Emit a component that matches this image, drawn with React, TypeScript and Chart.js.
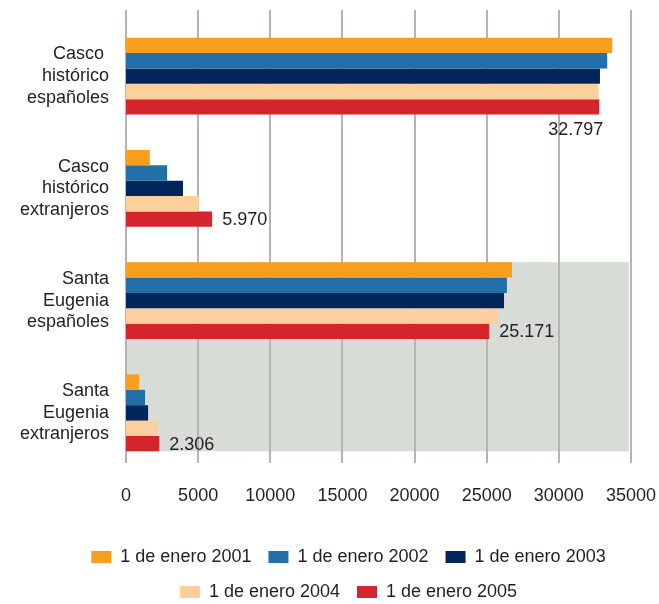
import React, { useEffect, useRef } from "react";
import { Chart, registerables } from "chart.js";

Chart.register(...registerables);

const categories: string[][] = [
  ["Casco ", "histórico", "españoles"],
  ["Casco", "histórico", "extranjeros"],
  ["Santa", "Eugenia", "españoles"],
  ["Santa", "Eugenia", "extranjeros"],
];

const seriesLabels = [
  "1 de enero 2001",
  "1 de enero 2002",
  "1 de enero 2003",
  "1 de enero 2004",
  "1 de enero 2005",
];

const values2001 = [33700, 1650, 26750, 900];
const values2002 = [33350, 2850, 26400, 1320];
const values2003 = [32850, 3950, 26200, 1530];
const values2004 = [32750, 5050, 25780, 2220];
const values2005 = [32797, 5970, 25171, 2306];

const seriesColors = ["#f79e1d", "#2170a8", "#02265b", "#fdcf9c", "#d3252b"];

const xTicks = [0, 5000, 10000, 15000, 20000, 25000, 30000, 35000];

const FONT = "'Liberation Sans', Arial, sans-serif";
const FONT_SIZE = 18;
const TEXT_COLOR = "#231f20";
const GRID_COLOR = "#bab1b1";
const SHADE_COLOR = "#d7dcd6";

const fmt = (v: number) => String(v).replace(/\B(?=(\d{3})+(?!\d))/g, ".");

const backdropPlugin = {
  id: "backdrop",
  afterLayout(chart: any) {
    const lg = chart.legend;
    if (lg) {
      lg.left += 33;
      lg.right += 33;
    }
  },
  beforeDatasetsDraw(chart: any) {
    const { ctx, chartArea } = chart;
    const first = chart.getDatasetMeta(0).data[2];
    const last = chart.getDatasetMeta(4).data[3];
    if (first && last) {
      const top = first.y - first.height / 2;
      const bottom = last.y + last.height / 2;
      ctx.save();
      ctx.fillStyle = SHADE_COLOR;
      ctx.fillRect(chartArea.left, top, chartArea.right - chartArea.left - 2, bottom - top);
      ctx.restore();
    }
    const xs = chart.scales.x;
    ctx.save();
    ctx.strokeStyle = GRID_COLOR;
    ctx.lineWidth = 2;
    xs.ticks.forEach((t: any) => {
      const x = Math.round(xs.getPixelForValue(t.value));
      ctx.beginPath();
      ctx.moveTo(x, chartArea.top - 10);
      ctx.lineTo(x, chartArea.bottom - 6);
      ctx.stroke();
    });
    ctx.restore();
  },
};

const valueLabelPlugin = {
  id: "valueLabels",
  afterDatasetsDraw(chart: any) {
    const { ctx } = chart;
    const meta = chart.getDatasetMeta(4);
    const data = chart.data.datasets[4].data as number[];
    ctx.save();
    ctx.font = `${FONT_SIZE}px ${FONT}`;
    ctx.fillStyle = TEXT_COLOR;
    ctx.textBaseline = "middle";
    meta.data.forEach((el: any, i: number) => {
      const text = fmt(data[i]);
      const w = ctx.measureText(text).width;
      if (el.x + 10 + w > chart.width - 4) {
        ctx.textAlign = "right";
        ctx.fillText(text, el.x + 4, el.y + el.height / 2 + 15);
      } else {
        ctx.textAlign = "left";
        ctx.fillText(text, el.x + 10, el.y + 1);
      }
    });
    ctx.restore();
  },
};

export default function App() {
  const ref = useRef<HTMLCanvasElement>(null);

  useEffect(() => {
    if (!ref.current) return;
    const allValues = [values2001, values2002, values2003, values2004, values2005];
    const chart = new Chart(ref.current, {
      type: "bar",
      data: {
        labels: categories,
        datasets: seriesLabels.map((label, i) => ({
          label,
          data: allValues[i],
          backgroundColor: seriesColors[i],
          borderWidth: 0,
          categoryPercentage: 0.685,
          barPercentage: 1,
        })),
      },
      options: {
        indexAxis: "y",
        animation: false,
        responsive: false,
        layout: { padding: { top: 20, right: 28, left: 0, bottom: 0 } },
        scales: {
          x: {
            min: 0,
            max: 35000,
            afterBuildTicks: (scale: any) => {
              scale.ticks = xTicks.map((v) => ({ value: v }));
            },
            afterFit: (scale: any) => {
              scale.height = 62;
              scale.paddingLeft = 0;
              scale.paddingRight = 0;
            },
            grid: { display: false, drawTicks: false },
            border: { display: false },
            ticks: {
              padding: 16,
              color: TEXT_COLOR,
              font: { family: FONT, size: FONT_SIZE },
              callback: (v: any) => String(v),
              maxRotation: 0,
            },
          },
          y: {
            afterFit: (scale: any) => {
              scale.width = 126;
              scale.paddingTop = 0;
              scale.paddingBottom = 0;
            },
            grid: { display: false, drawTicks: false },
            border: { display: false },
            ticks: {
              padding: 17,
              color: TEXT_COLOR,
              font: { family: FONT, size: FONT_SIZE, lineHeight: 1.2 },
            },
          },
        },
        plugins: {
          legend: {
            position: "bottom",
            labels: {
              boxWidth: 20,
              boxHeight: 12,
              padding: 17,
              color: TEXT_COLOR,
              font: { family: FONT, size: FONT_SIZE },
            },
          },
          tooltip: { enabled: false },
        },
      },
      plugins: [backdropPlugin, valueLabelPlugin],
    });
    return () => chart.destroy();
  }, []);

  return (
    <div style={{ position: "absolute", left: 0, top: 0, width: 659, height: 604, overflow: "hidden", background: "#fff" }}>
      <canvas ref={ref} width={659} height={611} style={{ display: "block" }} />
    </div>
  );
}
